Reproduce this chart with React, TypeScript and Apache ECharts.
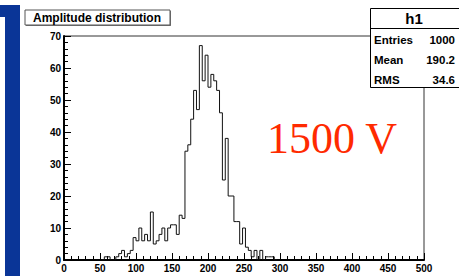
import React, { useEffect, useRef } from "react";
import * as echarts from "echarts";

// Histogram: bins of width 4 starting at 52 (all other bins empty)
const binWidth = 4;
const firstBinStart = 52;
const counts = [
  0, 1, 1, 0, 0, 1, 2, 3, 1, 2, 3, 7, 6, 10, 6, 8, 6, 15, 5, 6, 8, 10, 6, 10,
  11, 11, 8, 14, 13, 34, 36, 44, 53, 47, 67, 56, 64, 54, 58, 56, 53, 46, 25,
  38, 20, 20, 12, 12, 5, 10, 4, 3, 1, 3, 0, 3, 0, 1, 1, 1, 0,
];

const xRange = [0, 500];
const xInterval = 50;
const yRange = [0, 70];
const yInterval = 10;

const titleText = "Amplitude distribution";
const histName = "h1";
const statLabels = ["Entries", "Mean", "RMS"];
const statValues = ["1000", "190.2", "34.6"];
const annotation = "1500 V";

const FONT = "'Liberation Sans', Arial, Helvetica, sans-serif";

export default function App() {
  const ref = useRef<HTMLDivElement>(null);
  useEffect(() => {
    if (!ref.current) return;
    const chart = echarts.init(ref.current, null, { renderer: "svg" });

    const stepData: number[][] = counts.map((c, i) => [
      firstBinStart + i * binWidth,
      c,
    ]);
    stepData.push([firstBinStart + counts.length * binWidth, 0]);

    const axisCommon = {
      type: "value" as const,
      axisLine: { show: true, onZero: false, lineStyle: { color: "#000", width: 2 } },
      axisTick: { show: true, inside: true, length: 7, lineStyle: { color: "#000", width: 1 } },
      minorTick: { show: true, splitNumber: 5, length: 4, lineStyle: { color: "#000", width: 1 } },
      splitLine: { show: false },
      minorSplitLine: { show: false },
      axisLabel: {
        color: "#000",
        fontWeight: "bold" as const,
        fontSize: 10,
        fontFamily: FONT,
      },
    };

    const statRows = statLabels.flatMap((lab, i) => [
      {
        type: "text",
        z: 101,
        style: {
          x: 374,
          y: 40 + i * 20,
          text: lab,
          fill: "#000",
          font: `bold 11.5px ${FONT}`,
          textVerticalAlign: "middle",
          textAlign: "left",
        },
      },
      {
        type: "text",
        z: 101,
        style: {
          x: 455,
          y: 40 + i * 20,
          text: statValues[i],
          fill: "#000",
          font: `bold 11.5px ${FONT}`,
          textVerticalAlign: "middle",
          textAlign: "right",
        },
      },
    ]);

    chart.setOption({
      animation: false,
      backgroundColor: "#fff",
      grid: {
        left: 64,
        top: 36,
        width: 360,
        height: 224,
        show: true,
        borderColor: "#333",
        borderWidth: 1,
        backgroundColor: "transparent",
      },
      xAxis: {
        ...axisCommon,
        min: xRange[0],
        max: xRange[1],
        interval: xInterval,
        axisLabel: { ...axisCommon.axisLabel, margin: 3 },
      },
      yAxis: {
        ...axisCommon,
        min: yRange[0],
        max: yRange[1],
        interval: yInterval,
        axisLabel: { ...axisCommon.axisLabel, margin: 3 },
      },
      series: [
        {
          type: "line",
          step: "end",
          data: stepData,
          showSymbol: false,
          symbol: "none",
          lineStyle: { color: "#111", width: 1 },
          z: 3,
        },
      ],
      graphic: [
        // blue side bar
        { type: "rect", z: 50, shape: { x: 5, y: 5, width: 15, height: 271 }, style: { fill: "#0a3597" } },
        { type: "rect", z: 50, shape: { x: 0, y: 5, width: 5, height: 12 }, style: { fill: "#0a3597" } },
        // title box
        { type: "rect", z: 99, shape: { x: 26, y: 11, width: 145, height: 15 }, style: { fill: "#777" } },
        { type: "rect", z: 100, shape: { x: 25, y: 10, width: 145, height: 15 }, style: { fill: "#fff", stroke: "#555", lineWidth: 1 } },
        {
          type: "text",
          z: 101,
          style: {
            x: 97,
            y: 18,
            text: titleText,
            fill: "#000",
            font: `bold 12px ${FONT}`,
            textAlign: "center",
            textVerticalAlign: "middle",
          },
        },
        // stats box
        { type: "rect", z: 100, shape: { x: 370.5, y: 8.5, width: 95, height: 79 }, style: { fill: "#fff", stroke: "#000", lineWidth: 1 } },
        { type: "line", z: 101, shape: { x1: 370.5, y1: 28.5, x2: 460, y2: 28.5 }, style: { stroke: "#000", lineWidth: 1 } },
        {
          type: "text",
          z: 101,
          style: {
            x: 414,
            y: 18,
            text: histName,
            fill: "#000",
            font: `bold 15px ${FONT}`,
            textAlign: "center",
            textVerticalAlign: "middle",
          },
        },
        ...statRows,
        // annotation
        {
          type: "text",
          z: 101,
          style: {
            x: 267,
            y: 138,
            text: annotation,
            fill: "#ff2a00",
            font: `44px 'Liberation Serif', 'Times New Roman', serif`,
            textAlign: "left",
            textVerticalAlign: "middle",
          },
        },
      ],
    });
    return () => chart.dispose();
  }, []);
  return (
    <div
      ref={ref}
      style={{ position: "fixed", left: 0, top: 0, width: 459, height: 276, background: "#fff" }}
    />
  );
}
